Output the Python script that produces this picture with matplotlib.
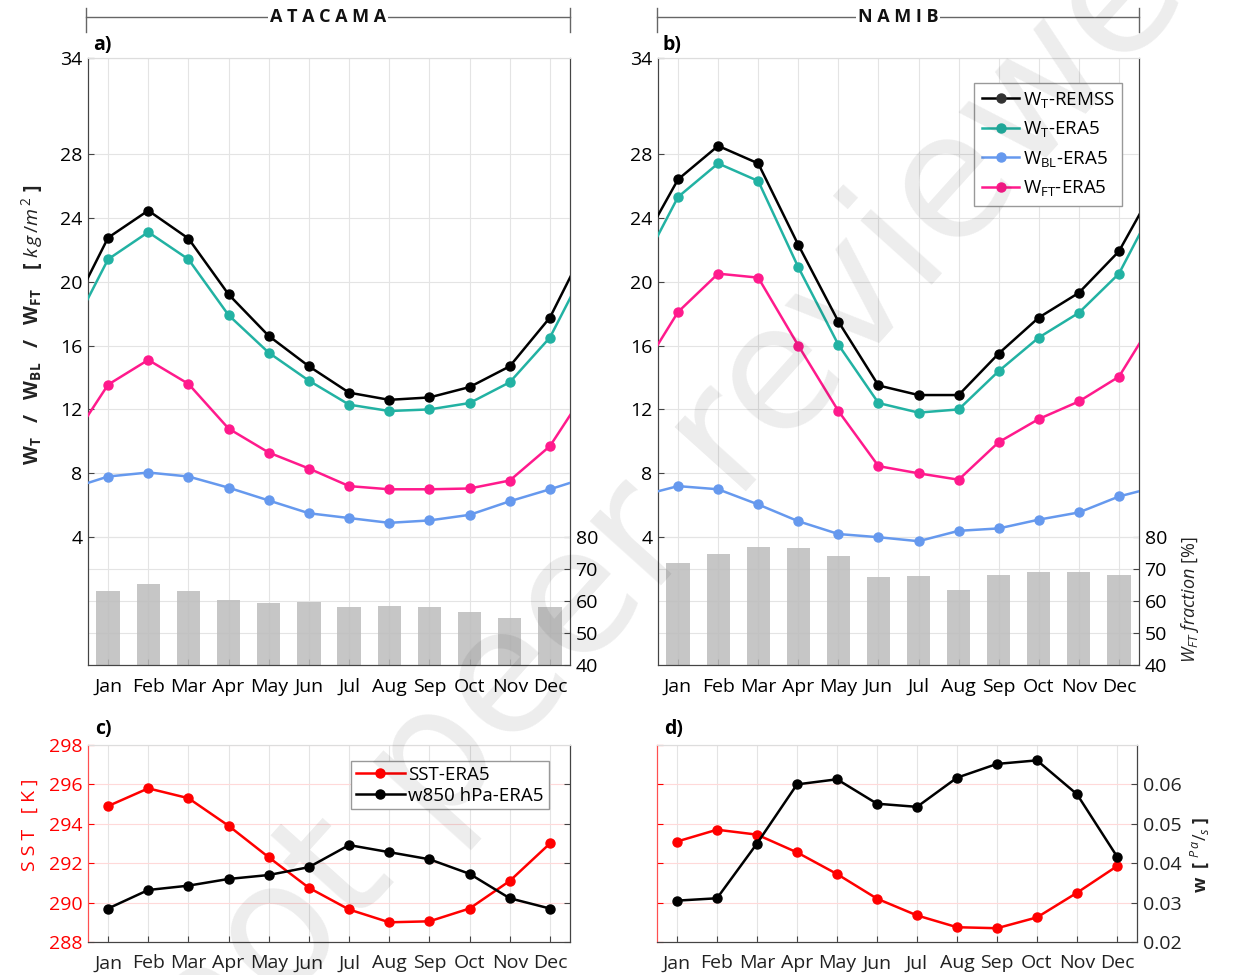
import numpy as np
import matplotlib
matplotlib.use('Agg')
import matplotlib.pyplot as plt
from matplotlib.lines import Line2D

plt.rcParams['font.family'] = ['Open Sans', 'DejaVu Sans']
plt.rcParams['mathtext.fontset'] = 'custom'
plt.rcParams['mathtext.rm'] = 'Open Sans'
plt.rcParams['mathtext.it'] = 'Open Sans:italic'

months = ['Jan', 'Feb', 'Mar', 'Apr', 'May', 'Jun', 'Jul', 'Aug', 'Sep', 'Oct', 'Nov', 'Dec']

# a) Atacama - agua precipitable [kg/m2]
wt_remss_a = [22.75, 24.45, 22.7, 19.2, 16.6, 14.7, 13.05, 12.6, 12.75, 13.4, 14.7, 17.75]
wt_era5_a = [21.4, 23.1, 21.4, 17.9, 15.55, 13.8, 12.3, 11.9, 12.0, 12.4, 13.7, 16.5]
wbl_era5_a = [7.8, 8.05, 7.8, 7.1, 6.3, 5.5, 5.2, 4.9, 5.05, 5.4, 6.25, 7.0]
wft_era5_a = [13.55, 15.1, 13.6, 10.8, 9.3, 8.3, 7.2, 7.0, 7.0, 7.05, 7.55, 9.7]
frac_a = [63.3, 65.2, 63.3, 60.2, 59.5, 59.8, 58.0, 58.6, 58.0, 56.7, 54.8, 58.3]

# b) Namib
wt_remss_b = [26.4, 28.5, 27.4, 22.3, 17.5, 13.5, 12.9, 12.9, 15.5, 17.75, 19.3, 21.9]
wt_era5_b = [25.3, 27.4, 26.3, 20.9, 16.05, 12.4, 11.8, 12.0, 14.4, 16.5, 18.05, 20.5]
wbl_era5_b = [7.2, 7.0, 6.05, 5.0, 4.2, 4.0, 3.75, 4.4, 4.55, 5.1, 5.55, 6.55]
wft_era5_b = [18.1, 20.5, 20.25, 16.0, 11.9, 8.45, 8.0, 7.6, 9.95, 11.4, 12.5, 14.05]
frac_b = [71.8, 74.6, 76.8, 76.5, 74.0, 67.7, 68.0, 63.6, 68.3, 69.0, 69.0, 68.3]

# c) d) SST [K] y w850 [Pa/s]
sst_c = [294.9, 295.8, 295.3, 293.9, 292.3, 290.75, 289.65, 289.0, 289.05, 289.7, 291.1, 293.0]
w850_c = [0.0285, 0.0332, 0.0343, 0.0360, 0.0370, 0.0390, 0.0446, 0.0428, 0.0410, 0.0373, 0.0311, 0.0285]
sst_d = [293.1, 293.7, 293.45, 292.55, 291.45, 290.2, 289.35, 288.75, 288.7, 289.25, 290.5, 291.85]
w850_d = [0.0305, 0.0311, 0.0450, 0.0600, 0.0613, 0.0551, 0.0543, 0.0617, 0.0652, 0.0661, 0.0575, 0.0417]

c_black = '#000000'
c_teal = '#22b2a3'
c_blue = '#6699ee'
c_pink = '#ff1a8c'
c_red = '#ff0000'
c_grid = '#e4e4e4'

W, H = 1239, 975
fig = plt.figure(figsize=(W / 100, H / 100), dpi=100)


def box(l, r, t, b):
    return [l / W, 1 - b / H, (r - l) / W, (b - t) / H]


x = np.arange(1, 13)
xw = np.arange(0, 14)


def wrap(v):
    # ay sonu ile başını birleştirip eksen kenarına kadar uzatıyorum
    return [v[-1]] + list(v) + [v[0]]


def top_panel(rect, series, frac, label):
    ax2 = fig.add_axes(rect)
    ax = ax2.twinx()
    ax.yaxis.tick_left()
    ax2.yaxis.tick_right()
    ax.set_zorder(ax2.get_zorder() + 1)
    ax.patch.set_visible(False)

    ax2.bar(x, frac, width=0.58, color='#bcbcbc', alpha=0.85, zorder=2)
    ax2.set_ylim(40, 230)
    ax2.set_yticks([40, 50, 60, 70, 80])
    ax2.set_axisbelow(True)
    ax2.grid(axis='y', color=c_grid, lw=0.8)
    ax2.grid(axis='x', color=c_grid, lw=0.8)

    for vals, col in series:
        ax.plot(xw, wrap(vals), color=col, lw=1.8, zorder=3)
        ax.plot(x, vals, 'o', color=col, ms=6.5, zorder=4)
    ax.set_ylim(-4, 34)
    ax.set_yticks([4, 8, 12, 16, 20, 24, 28, 34])
    ax.grid(axis='y', color=c_grid, lw=0.8)
    ax.set_xlim(0.5, 12.5)
    ax2.set_xticks(x)
    ax2.set_xticklabels(months)
    for a in (ax, ax2):
        a.tick_params(direction='in', labelsize=14, length=4, color='#444444', pad=4)
        for s in ('left', 'bottom', 'right'):
            a.spines[s].set_color('#444444')
        a.spines['top'].set_color('#dddddd')
    ax2.tick_params(axis='x', pad=9)
    ax2.tick_params(axis='y', labelright=False, right=False, left=False, labelleft=False)
    ax.tick_params(axis='y', right=False)
    ax.text(0.01, 1.005, label, transform=ax.transAxes, fontsize=14, fontweight='bold',
            va='bottom', ha='left')
    return ax, ax2


ax_a, ax_a2 = top_panel(box(88, 570, 58, 665), [
    (wt_remss_a, c_black), (wt_era5_a, c_teal),
    (wbl_era5_a, c_blue), (wft_era5_a, c_pink)], frac_a, 'a)')
ax_a2.tick_params(axis='y', right=True, labelright=True, direction='in')

ax_b, ax_b2 = top_panel(box(658, 1139, 58, 665), [
    (wt_remss_b, c_black), (wt_era5_b, c_teal),
    (wbl_era5_b, c_blue), (wft_era5_b, c_pink)], frac_b, 'b)')
ax_b2.tick_params(axis='y', right=True, labelright=True, direction='in')

# lejant (b)
handles = [
    Line2D([], [], color=c_black, lw=1.8, marker='o', ms=6.5, markerfacecolor='#333333', markeredgecolor='#333333'),
    Line2D([], [], color=c_teal, lw=1.8, marker='o', ms=6.5),
    Line2D([], [], color=c_blue, lw=1.8, marker='o', ms=6.5),
    Line2D([], [], color=c_pink, lw=1.8, marker='o', ms=6.5),
]
labels = [r'W$_\mathregular{T}$-REMSS', r'W$_\mathregular{T}$-ERA5',
          r'W$_\mathregular{BL}$-ERA5', r'W$_\mathregular{FT}$-ERA5']
leg = ax_b.legend(handles, labels, loc='upper right', bbox_to_anchor=(0.985, 0.975),
                  fontsize=13.5, handlelength=2.0, handletextpad=0.2, labelspacing=0.5,
                  borderpad=0.4, fancybox=False, framealpha=1, edgecolor='#999999')


def bottom_panel(rect, sst, w, label, show_left, show_right):
    ax = fig.add_axes(rect)
    axw = ax.twinx()
    ax.plot(x, sst, '-o', color=c_red, lw=1.8, ms=6.5, zorder=3)
    axw.plot(x, w, '-o', color=c_black, lw=1.8, ms=6.5, zorder=3)
    ax.set_ylim(288, 298)
    ax.set_yticks(np.arange(288, 299, 2))
    axw.set_ylim(0.02, 0.07)
    axw.set_yticks([0.02, 0.03, 0.04, 0.05, 0.06])
    axw.set_yticklabels(['0.02', '0.03', '0.04', '0.05', '0.06'])
    ax.set_xlim(0.5, 12.5)
    ax.set_xticks(x)
    ax.set_xticklabels(months)
    ax.grid(axis='y', color='#ffd9d9', lw=0.8)
    ax.grid(axis='x', color=c_grid, lw=0.8)
    ax.tick_params(direction='in', labelsize=14, length=4, pad=4)
    axw.tick_params(direction='in', labelsize=14, length=4, pad=4, color='#444444')
    ax.tick_params(axis='y', colors=c_red, labelleft=show_left)
    ax.tick_params(axis='x', colors='#222222', color='#444444', pad=9)
    axw.tick_params(axis='y', labelright=show_right, labelcolor='#222222')
    ax.spines['left'].set_color('#ff5050')
    ax.spines['bottom'].set_color('#444444')
    ax.spines['top'].set_color('#dddddd')
    axw.spines['left'].set_color('#ff5050')
    axw.spines['right'].set_color('#444444')
    axw.spines['top'].set_color('#dddddd')
    axw.spines['bottom'].set_color('#444444')
    ax.text(0.015, 1.03, label, transform=ax.transAxes, fontsize=14, fontweight='bold',
            va='bottom', ha='left')
    return ax, axw


ax_c, ax_cw = bottom_panel(box(88, 570, 745, 942), sst_c, w850_c, 'c)', True, False)
ax_d, ax_dw = bottom_panel(box(657, 1137, 745, 942), sst_d, w850_d, 'd)', False, True)

hc = [Line2D([], [], color=c_red, lw=1.8, marker='o', ms=6.5),
      Line2D([], [], color=c_black, lw=1.8, marker='o', ms=6.5)]
ax_cw.legend(hc, ['SST-ERA5', 'w850 hPa-ERA5'], loc='upper right', bbox_to_anchor=(0.975, 0.965),
             fontsize=13.5, handlelength=2.6, handletextpad=0.2, labelspacing=0.15,
             borderpad=0.25, fancybox=False, framealpha=1, edgecolor='#999999')

# eksen başlıkları
fig.text(32 / W, 1 - 325 / H,
         r'W$_\mathregular{T}$   /   W$_\mathregular{BL}$   /   W$_\mathregular{FT}$    [ $k\,g\,/m^{\,2}$ ]',
         rotation=90, ha='center', va='center', fontsize=14, fontweight='bold', color='#222222')
fig.text(1190 / W, 1 - 600 / H, r'$W_{FT}$ $fraction$ [%]', rotation=90,
         ha='center', va='center', fontsize=13, color='#222222')
fig.text(30 / W, 1 - 825 / H, 'S S T   [ K ]', rotation=90, ha='center', va='center',
         fontsize=14, color=c_red)
fig.text(1200 / W, 1 - 855 / H, r'w  [ $^{P\,a}/_{s}$ ]', rotation=90, ha='center', va='center',
         fontsize=13, fontweight='bold', color='#222222')

# üst başlık çizgileri
for l, r, name in [(86, 570, 'A T A C A M A'), (657, 1139, 'N A M I B')]:
    yy = 1 - 17 / H
    fig.add_artist(Line2D([l / W, r / W], [yy, yy], color='#666666', lw=1.0))
    for xx in (l, r):
        fig.add_artist(Line2D([xx / W, xx / W], [1 - 8 / H, 1 - 32 / H], color='#666666', lw=1.0))
    fig.text((l + r) / 2 / W, yy, name, ha='center', va='center', fontsize=13,
             fontweight='bold', color='#111111',
             bbox=dict(facecolor='white', edgecolor='none', pad=1.5))

# filigran
fig.text(700 / W, 1 - 470 / H, 'not peer reviewed', rotation=48, ha='center', va='center',
         fontsize=125, color='black', alpha=0.075, family='DejaVu Sans', zorder=10)

fig.savefig('out.png', dpi=100)
